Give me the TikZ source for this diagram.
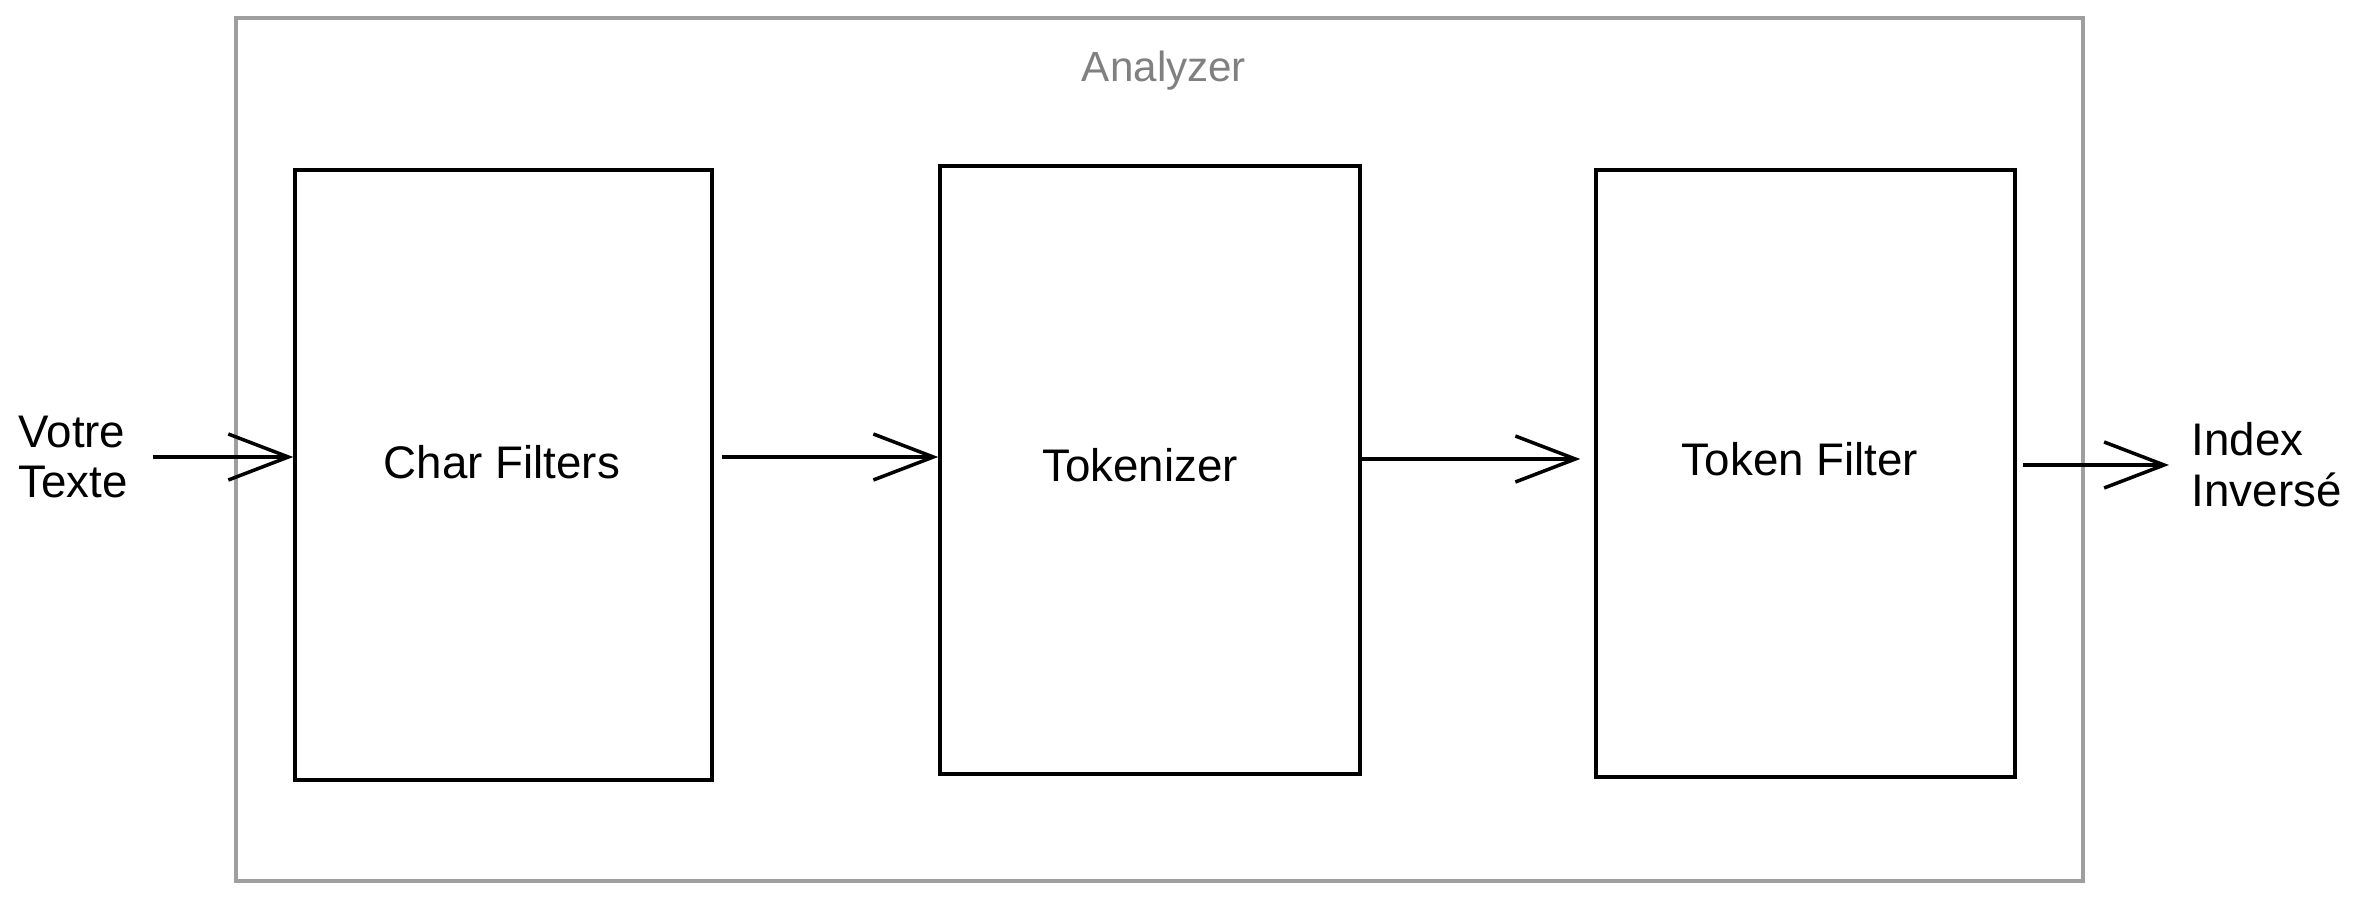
\documentclass[tikz,border=0pt]{standalone}
\usepackage{fontspec}
\setmainfont{Liberation Sans}
\usetikzlibrary{arrows.meta}

\begin{document}
\begin{tikzpicture}[
        stage/.style={draw=black, line width=1pt, inner sep=0pt},
        lbl/.style={font=\fontsize{13}{14.5}\selectfont, inner sep=0pt},
        flow/.style={-{Straight Barb[length=6mm, width=4.6mm]}, line width=1pt}
    ]
        \useasboundingbox (0,0) rectangle (23.62,-9.04);

        \node[draw=gray!75, line width=0.9pt, minimum width=18.47cm, minimum height=8.63cm] (AN) at (11.595,-4.495) {};
        \node[lbl, font=\fontsize{12}{14}\selectfont, text=gray] (ANL) at (11.64,-0.71) {Analyzer};

        \node[stage, minimum width=4.17cm, minimum height=6.10cm] (B1) at (5.035,-4.75) {};
        \node[lbl] (L1) at (5.02,-4.62) {Char Filters};
        \node[stage, minimum width=4.20cm, minimum height=6.08cm] (B2) at (11.50,-4.70) {};
        \node[lbl] (L2) at (11.40,-4.65) {Tokenizer};
        \node[stage, minimum width=4.19cm, minimum height=6.07cm] (B3) at (18.055,-4.735) {};
        \node[lbl] (L3) at (18.00,-4.59) {Token Filter};

        \node[lbl, anchor=west, align=left] (in) at (0.18,-4.57) {Votre\\Texte};
        \node[lbl, anchor=west, align=left] (out) at (21.91,-4.65) {Index\\Inversé};

        \draw[flow, shorten <=0.24cm] (in.east) -- (in.east -| B1.west);
        \draw[flow, shorten <=0.08cm] (B1.east |- in.east) -- (B2.west |- in.east);
        \draw[flow, shorten >=0.14cm] (B2.east |- L3) -- (B3.west |- L3);
        \draw[flow, shorten <=0.06cm, shorten >=0.22cm] (B3.east |- out.west) -- (out.west);
    \end{tikzpicture}
\end{document}
